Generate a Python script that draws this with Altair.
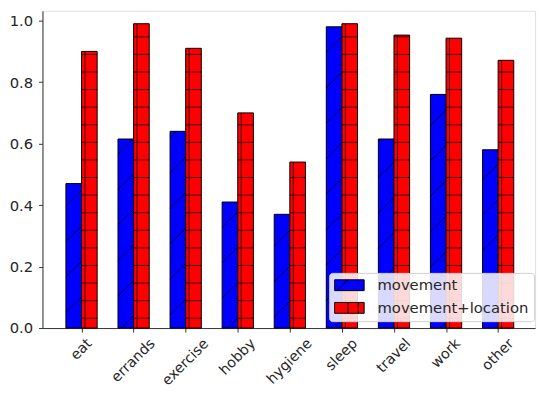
import altair as alt
import pandas as pd

# ---- data ----
categories = ["eat", "errands", "exercise", "hobby", "hygiene", "sleep", "travel", "work", "other"]
movement = [0.47, 0.615, 0.64, 0.41, 0.37, 0.98, 0.615, 0.76, 0.58]
movement_location = [0.90, 0.99, 0.91, 0.70, 0.54, 0.99, 0.953, 0.943, 0.871]
series_names = ["movement", "movement+location"]
series_colors = ["#0000ff", "#ff0000"]
y_ticks = [0.0, 0.2, 0.4, 0.6, 0.8, 1.0]

# ---- layout / scale helpers ----
X_DOMAIN = [-0.75, 8.71]
Y_DOMAIN = [0.0, 1.032]
W, H = 500, 322
PPX = W / (X_DOMAIN[1] - X_DOMAIN[0])
PPY = H / (Y_DOMAIN[1] - Y_DOMAIN[0])
BAR_W = 0.3
FONT = "DejaVu Sans"
TXT = "#262626"


def to_px(x):
    return (x - X_DOMAIN[0]) * PPX


def to_dx(p):
    return p / PPX + X_DOMAIN[0]


bars = pd.DataFrame({
    "idx": list(range(len(categories))),
    "cat": categories,
    "movement": movement,
    "movement_location": movement_location,
})
bars["bx"] = bars["idx"] - BAR_W
bars["bx2"] = bars["idx"] * 1.0
bars["rx"] = bars["idx"] * 1.0
bars["rx2"] = bars["idx"] + BAR_W

# ---- hatch segments derived from the bars ----
segs = []
w_px = BAR_W * PPX
DIAG = 36.0
HSTEP = 17.85
for i, v in enumerate(movement):
    xl = to_px(i - BAR_W)
    top = v * PPY
    h = ((xl + 28.0) % DIAG) - DIAG
    while h < top:
        x0, h0 = xl, h
        x1, h1 = xl + w_px, h + w_px
        if h0 < 0:
            x0, h0 = xl - h, 0.0
        if h1 > top:
            x1, h1 = xl + (top - h), top
        if x1 - x0 > 0.5:
            segs.append({"x": to_dx(x0), "x2": to_dx(x1), "y": h0 / PPY, "y2": h1 / PPY})
        h += DIAG
for i, v in enumerate(movement_location):
    top = v * PPY
    h = 10.0
    while h < top - 1.0:
        segs.append({"x": float(i), "x2": i + BAR_W, "y": h / PPY, "y2": h / PPY})
        h += HSTEP
    xv = to_dx(to_px(i) + 3.5)
    segs.append({"x": xv, "x2": xv, "y": 0.0, "y2": v})
hatch = pd.DataFrame(segs)

# ---- rotated x labels (matplotlib-style centred rotation) ----
cw = {"a": .613, "b": .635, "c": .55, "d": .635, "e": .615, "g": .635, "h": .634,
      "i": .278, "k": .579, "l": .278, "n": .634, "o": .612, "p": .635, "r": .411,
      "s": .521, "t": .392, "v": .592, "w": .818, "x": .592, "y": .592}
FS = 14.5
lab_rows = []
for i, c in enumerate(categories):
    wpx = sum(cw.get(ch, 0.6) for ch in c) * FS
    yrel = H + 8.5 + (wpx + FS) * 0.3536
    lab_rows.append({"idx": i, "label": c, "ly": (H - yrel) / PPY})
labels = pd.DataFrame(lab_rows)

xs = alt.Scale(domain=X_DOMAIN, nice=False, zero=False)
ys = alt.Scale(domain=Y_DOMAIN, nice=False, zero=False)

base = alt.Chart(bars)

blue = base.mark_rect(fill=series_colors[0], stroke="black", strokeWidth=1).encode(
    x=alt.X("bx:Q", scale=xs,
            axis=alt.Axis(values=list(range(len(categories))), labels=False, title=None,
                          grid=False, tickSize=4, tickColor="#333", domainColor="#333")),
    x2="bx2:Q",
    y=alt.Y("movement:Q", scale=ys,
            axis=alt.Axis(values=y_ticks, format=".1f", title=None, grid=False, tickSize=4,
                          labelPadding=6, labelFontSize=15, labelColor=TXT, labelFont=FONT,
                          tickColor="#333", domainColor="#333")),
    y2=alt.datum(0),
)
red = base.mark_rect(fill=series_colors[1], stroke="black", strokeWidth=1).encode(
    x=alt.X("rx:Q", scale=xs), x2="rx2:Q",
    y=alt.Y("movement_location:Q", scale=ys), y2=alt.datum(0),
)

hatch_layer = alt.Chart(hatch).mark_rule(color="black", strokeWidth=1, opacity=0.75).encode(
    x=alt.X("x:Q", scale=xs), x2="x2:Q",
    y=alt.Y("y:Q", scale=ys), y2="y2:Q",
)

text_layer = alt.Chart(labels).mark_text(
    angle=315, align="center", baseline="middle", fontSize=FS, font=FONT, color=TXT
).encode(
    x=alt.X("idx:Q", scale=xs),
    y=alt.Y("ly:Q", scale=ys),
    text="label:N",
)

legend_df = pd.DataFrame({"series": series_names, "idx": [0, 0], "v": [0, 0]})
blue_path = "M-1,-0.3667H1V0.3667H-1Z M-0.85,0.3667L-0.12,-0.3667"
red_path = "M-1,-0.3667H1V0.3667H-1Z M-0.1,-0.3667V0.3667 M0.6,-0.3667V0.3667"
legend_layer = alt.Chart(legend_df).transform_filter("false").mark_point(
    filled=True, size=900, opacity=1, stroke="black", strokeWidth=1
).encode(
    x=alt.X("idx:Q", scale=xs),
    y=alt.Y("v:Q", scale=ys),
    color=alt.Color("series:N",
                    scale=alt.Scale(domain=series_names, range=series_colors),
                    legend=alt.Legend(orient="none", legendX=291, legendY=266, title=None,
                                      labelFontSize=15, labelFont=FONT, labelColor=TXT,
                                      labelOffset=13, padding=5, rowPadding=7,
                                      symbolSize=900, clipHeight=15,
                                      fillColor="rgba(255,255,255,0.85)",
                                      strokeColor="#d0d0d0", cornerRadius=3,
                                      symbolStrokeColor="black", symbolStrokeWidth=1)),
    shape=alt.Shape("series:N", scale=alt.Scale(domain=series_names, range=[blue_path, red_path])),
)

chart = alt.layer(blue, red, hatch_layer, text_layer, legend_layer).properties(
    width=W, height=H,
    autosize=alt.AutoSizeParams(type="none"),
    padding={"left": 35, "top": 0, "right": 7, "bottom": 60},
).configure_view(stroke="#333", strokeWidth=1).configure(font=FONT)

chart.save("out.html", embed_options={"renderer": "svg", "actions": False})
